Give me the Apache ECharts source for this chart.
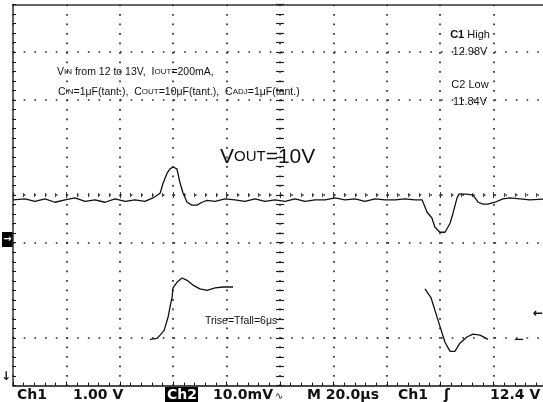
<!DOCTYPE html>
<html lang="en">
<head>
<meta charset="UTF-8">
<title>Vout load transient</title>
<style>
  html, body { margin: 0; padding: 0; background: #fff; }
  #chart { width: 543px; height: 402px; }
</style>
</head>
<body>
<div id="chart"></div>
<script src="https://cdn.jsdelivr.net/npm/echarts@6/dist/echarts.min.js"></script>
<script>
// screen: 10 div x 20us, 8 div vertical, trigger in the middle
var timeMin = -100, timeMax = 100, timeStep = 20;
var divMin = -4, divMax = 4;
// graticule rows still visible as dotted lines on the screen shot
var gridRows = [3, 2, 0, -1, -3];

// Ch2: output ripple, 10mV/div (AC), time in us, level in mV
var ch2Time = [-100, -95.5, -91.8, -88.0, -84.3, -80.5, -76.8, -73.0, -69.3, -65.5, -61.8, -58.0, -54.3, -50.6, -47.6,
  -44.9, -43.8, -42.3, -41.2, -40.1, -38.6, -37.5, -36.3, -34.8, -33.0, -31.1, -29.2, -27.3,
  -24.3, -20.6, -16.9, -13.1, -9.4, -5.6, -1.9, 1.9, 5.6, 9.4, 13.1, 16.9, 20.6, 24.3, 28.1, 31.8, 35.6, 39.3, 43.1, 46.8, 50.6, 53.2,
  55.1, 56.9, 58.0, 59.9, 61.8, 63.7, 64.8, 66.3, 67.0, 70.0, 72.3, 74.2, 76.0, 77.9, 80.5, 83.5, 86.1, 89.9, 93.6, 100];
var ch2mV = [9.0, 9.2, 8.7, 9.2, 8.5, 9.0, 9.4, 8.7, 9.0, 8.5, 9.2, 8.7, 9.0, 8.7, 9.4,
  10.4, 12.5, 14.6, 15.5, 15.9, 15.5, 12.7, 10.4, 8.5, 7.9, 7.9, 8.5, 8.9,
  8.7, 9.2, 9.0, 8.7, 9.2, 8.7, 9.0, 8.7, 9.2, 8.7, 9.0, 9.0, 9.4, 9.0, 9.2, 8.7, 9.2, 9.0, 9.0, 9.2, 9.0, 9.0,
  6.4, 5.2, 3.3, 2.2, 2.2, 4.1, 6.2, 9.4, 10.2, 10.2, 10.0, 8.5, 8.1, 8.1, 8.5, 9.2, 9.4, 9.2, 9.0, 9.2];

// Ch1: input step 12V -> 13V -> 12V, 1V/div; null where the scope drew nothing
var ch1Time = [-48.7, -46.1, -44.9, -43.4, -41.9, -41.2, -40.4, -40.1, -38.6, -36.7, -34.8, -32.6, -30.0, -27.3, -24.3, -21.3, -17.6, -10,
  54.3, 56.6, 59.2, 61.8, 63.7, 65.5, 67.4, 70.0, 72.3, 74.9, 77.9, 82,
  88.0, 91.0];
var ch1Volt = [11.97, 11.99, 12.06, 12.16, 12.44, 12.65, 12.86, 13.05, 13.17, 13.26, 13.21, 13.11, 13.03, 13.00, 13.05, 13.07, 13.07, null,
  13.03, 12.84, 12.37, 11.91, 11.72, 11.72, 11.89, 12.02, 12.08, 12.06, 11.97, null,
  11.97, 11.97];

function pairs(xs, ys) {
  return xs.map(function (x, i) { return [x, ys[i]]; });
}

var ink = '#111';
var myChart = echarts.init(document.getElementById('chart'));

function centerX(pos) {
  return {
    type: 'value', min: timeMin, max: timeMax, interval: timeStep, position: pos,
    axisLine: { show: true, onZero: true, onZeroAxisIndex: 0, lineStyle: { color: 'rgba(0,0,0,0)' } },
    axisTick: { show: true, inside: false, length: 3, lineStyle: { color: '#333' } },
    minorTick: { show: true, splitNumber: 5, length: 2, lineStyle: { color: '#444' } },
    axisLabel: { show: false }, splitLine: { show: false }
  };
}
function centerY(pos) {
  return {
    type: 'value', min: divMin, max: divMax, interval: 1, position: pos,
    axisLine: { show: true, onZero: true, onZeroAxisIndex: 0, lineStyle: { color: 'rgba(0,0,0,0)' } },
    axisTick: { show: true, inside: false, length: 4, lineStyle: { color: '#222', width: 1.2 } },
    minorTick: { show: true, splitNumber: 5, length: 4, lineStyle: { color: '#222', width: 1.2 } },
    axisLabel: { show: false }, splitLine: { show: false }
  };
}

var option = {
  animation: false,
  backgroundColor: '#fff',
  grid: { left: 13, top: 4.6, width: 534, height: 381, containLabel: false, outerBoundsMode: 'none' },
  xAxis: [
    {
      type: 'value', min: timeMin, max: timeMax, interval: timeStep, position: 'bottom',
      axisLine: { onZero: false, lineStyle: { color: ink, width: 1.5 } },
      axisTick: { show: true, inside: true, length: 4, lineStyle: { color: ink } },
      minorTick: { show: true, splitNumber: 5, length: 3, lineStyle: { color: ink } },
      axisLabel: { show: false },
      splitLine: { show: true, lineStyle: { color: '#222', width: 1.6, type: [1.6, 7.9] } }
    },
    {
      type: 'value', min: timeMin, max: timeMax, position: 'top',
      axisLine: { onZero: false, lineStyle: { color: '#333', width: 1.5 } },
      axisTick: { show: false }, axisLabel: { show: false }, splitLine: { show: false }
    },
    centerX('bottom'),
    centerX('top')
  ],
  yAxis: [
    {
      type: 'value', min: divMin, max: divMax, interval: 1, position: 'left',
      axisLine: { onZero: false, lineStyle: { color: '#333', width: 1.5 } },
      axisTick: { show: true, inside: true, length: 3, lineStyle: { color: ink } },
      minorTick: { show: true, splitNumber: 5, length: 3, lineStyle: { color: ink } },
      axisLabel: { show: false }, splitLine: { show: false }
    },
    centerY('left'),
    centerY('right'),
    { type: 'value', min: 11, max: 19, show: false },   // Ch1 volts
    { type: 'value', min: -30, max: 50, show: false }   // Ch2 mV
  ],
  series: [
    {
      name: 'graticule', type: 'line', data: [], silent: true,
      xAxisIndex: 0, yAxisIndex: 0,
      markLine: {
        silent: true, symbol: ['none', 'none'], label: { show: false },
        lineStyle: { color: '#222', width: 1.6, type: [1.6, 9.1] },
        data: gridRows.map(function (r) { return { yAxis: r }; })
      }
    },
    {
      name: 'Ch2', type: 'line', xAxisIndex: 0, yAxisIndex: 4,
      data: pairs(ch2Time, ch2mV), showSymbol: false,
      lineStyle: { color: ink, width: 1.3 }
    },
    {
      name: 'Ch1', type: 'line', xAxisIndex: 0, yAxisIndex: 3,
      data: pairs(ch1Time, ch1Volt), showSymbol: false, connectNulls: false,
      lineStyle: { color: ink, width: 1.3 }
    }
  ],
  graphic: [
    { type: 'text', x: 57, y: 72, style: { text: '{n|V}{s|IN}{n| from 12 to 13V,  I}{s|OUT}{n|=200mA,}', verticalAlign: 'middle',
      rich: { n: { fontSize: 10.5, fontFamily: 'Liberation Sans', fill: ink }, s: { fontSize: 8, fontFamily: 'Liberation Sans', fill: ink } } } },
    { type: 'text', x: 58, y: 92, style: { text: '{n|C}{s|IN}{n|=1μF(tant.),  C}{s|OUT}{n|=10μF(tant.),  C}{s|ADJ}{n|=1μF(tant.)}', verticalAlign: 'middle',
      rich: { n: { fontSize: 10.5, fontFamily: 'Liberation Sans', fill: ink }, s: { fontSize: 8, fontFamily: 'Liberation Sans', fill: ink } } } },
    { type: 'text', x: 470, y: 35, style: { text: '{b|C1} High', align: 'center', verticalAlign: 'middle', font: '11px Liberation Sans', fill: ink,
      rich: { b: { fontSize: 11, fontWeight: 'bold', fontFamily: 'Liberation Sans' } } } },
    { type: 'text', x: 470, y: 52, style: { text: '12.98V', align: 'center', verticalAlign: 'middle', font: '11px Liberation Sans', fill: ink } },
    { type: 'text', x: 470, y: 85, style: { text: 'C2 Low', align: 'center', verticalAlign: 'middle', font: '11px Liberation Sans', fill: ink } },
    { type: 'text', x: 470, y: 102, style: { text: '11.84V', align: 'center', verticalAlign: 'middle', font: '11px Liberation Sans', fill: ink } },
    { type: 'text', x: 220, y: 157, style: { text: '{b|V}{s|OUT}{b|=10V}', verticalAlign: 'middle',
      rich: { b: { fontSize: 21, fontFamily: 'Liberation Sans', fill: ink }, s: { fontSize: 15, fontFamily: 'Liberation Sans', fill: ink } } } },
    { type: 'text', x: 205, y: 321, style: { text: 'Trise=Tfall=6μs', verticalAlign: 'middle', font: '10.5px Liberation Sans', fill: ink } },
    // channel / trigger markers
    { type: 'rect', shape: { x: 2, y: 232, width: 11, height: 15 }, style: { fill: '#000' } },
    { type: 'text', x: 7.5, y: 239.5, style: { text: '→', align: 'center', verticalAlign: 'middle', font: 'bold 10px DejaVu Sans', fill: '#fff' } },
    { type: 'text', x: 6, y: 377, style: { text: '↓', align: 'center', verticalAlign: 'middle', font: 'bold 12px DejaVu Sans', fill: ink } },
    { type: 'text', x: 538, y: 314, style: { text: '←', align: 'center', verticalAlign: 'middle', font: 'bold 12px DejaVu Sans', fill: ink } },
    // readout line
    { type: 'text', x: 17, y: 395, style: { text: 'Ch1', verticalAlign: 'middle', font: 'bold 14px DejaVu Sans', fill: ink } },
    { type: 'text', x: 73, y: 395, style: { text: '1.00 V', verticalAlign: 'middle', font: 'bold 14px DejaVu Sans', fill: ink } },
    { type: 'rect', shape: { x: 165, y: 387, width: 33, height: 15 }, style: { fill: '#000' } },
    { type: 'text', x: 167, y: 395, style: { text: 'Ch2', verticalAlign: 'middle', font: 'bold 14px DejaVu Sans', fill: '#fff' } },
    { type: 'text', x: 213, y: 395, style: { text: '10.0mV', verticalAlign: 'middle', font: 'bold 14px DejaVu Sans', fill: ink } },
    { type: 'text', x: 275, y: 396, style: { text: '∿', verticalAlign: 'middle', font: '10px DejaVu Sans', fill: ink } },
    { type: 'text', x: 307, y: 395, style: { text: 'M 20.0μs', verticalAlign: 'middle', font: 'bold 14px DejaVu Sans', fill: ink } },
    { type: 'text', x: 398, y: 395, style: { text: 'Ch1', verticalAlign: 'middle', font: 'bold 14px DejaVu Sans', fill: ink } },
    { type: 'text', x: 444, y: 395, style: { text: 'ʃ', verticalAlign: 'middle', font: 'bold 14px DejaVu Sans', fill: ink } },
    { type: 'text', x: 490, y: 395, style: { text: '12.4 V', verticalAlign: 'middle', font: 'bold 14px DejaVu Sans', fill: ink } }
  ]
};
myChart.setOption(option);
</script>
</body>
</html>
